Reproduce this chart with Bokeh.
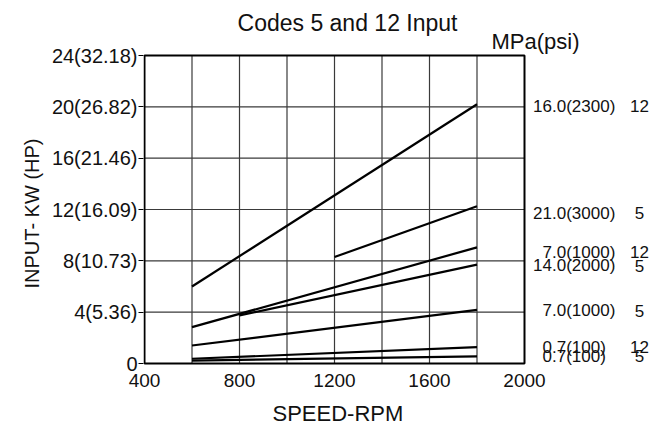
from bokeh.plotting import figure
from bokeh.models import FixedTicker, Range1d, ColumnDataSource, Title
from bokeh.core.properties import value
from bokeh.embed import file_html
from bokeh.resources import INLINE

# ---- data ----
x_start = [600, 1200, 600, 800, 600, 600, 600]
x_end = [1800, 1800, 1800, 1800, 1800, 1800, 1800]
y_start = [6.0, 8.3, 2.83, 3.75, 1.4, 0.37, 0.23]
y_end = [20.2, 12.25, 9.05, 7.7, 4.18, 1.27, 0.55]
pressures = ["16.0(2300)", "21.0(3000)", "7.0(1000)", "14.0(2000)", "7.0(1000)", "0.7(100)", "0.7(100)"]
codes = ["12", "5", "12", "5", "5", "12", "5"]

x_min, x_max = 400, 2000
y_min, y_max = 0, 24
x_ticks = [400, 800, 1200, 1600, 2000]
x_grid = [600, 800, 1000, 1200, 1400, 1600, 1800]
y_ticks = [0, 4, 8, 12, 16, 20, 24]
y_grid = [4, 8, 12, 16, 20]
y_tick_labels = ["0", "4(5.36)", "8(10.73)", "12(16.09)", "16(21.46)", "20(26.82)", "24(32.18)"]

title_text = "Codes 5 and 12 Input"
unit_text = "MPa(psi)"
x_label = "SPEED-RPM"
y_label = "INPUT- KW (HP)"

# ---- layout constants (pixels) ----
FONT = "Liberation Sans"
W, H = 660, 436
PL, PR, PT, PB = 144, 524, 55, 363          # plot box edges
FL, FR, FT, FB = 143, W - 2, 2, 368          # drawing frame edges
kx = (PR - PL) / (x_max - x_min)
ky = (PB - PT) / (y_max - y_min)

def dx(px):  # page pixel x -> data x
    return x_min + (px - PL) / kx

def dy(py):  # page pixel y -> data y
    return y_min + (PB - py) / ky

label_nudge = [2, 7, 5, 1, 1, 0, 0]   # px, downward nudges of right-side labels

p = figure(width=W, height=H, title=None,
           x_range=Range1d(dx(FL), dx(FR)), y_range=Range1d(dy(FB), dy(FT)),
           output_backend="svg", toolbar_location=None,
           min_border_left=FL, min_border_right=W - FR,
           min_border_top=FT, min_border_bottom=H - FB)

p.background_fill_color = "white"
p.border_fill_color = "white"
p.outline_line_color = None
p.xgrid.visible = False
p.ygrid.visible = False

# axes
p.xaxis.ticker = FixedTicker(ticks=x_ticks)
p.yaxis.ticker = FixedTicker(ticks=y_ticks)
p.yaxis.major_label_overrides = {t: s for t, s in zip(y_ticks, y_tick_labels)}
for ax in (p.xaxis[0], p.yaxis[0]):
    ax.axis_line_color = None
    ax.minor_tick_line_color = None
    ax.major_label_text_font = FONT
    ax.major_label_text_color = "#111111"

p.xaxis.major_tick_line_color = None
p.xaxis.major_tick_out = 0
p.xaxis.major_tick_in = 0
p.xaxis.major_label_standoff = 5
p.xaxis.major_label_text_font_size = "19px"

p.yaxis.major_tick_line_color = "black"
p.yaxis.major_tick_out = 5
p.yaxis.major_tick_in = 0
p.yaxis.major_label_standoff = 1
p.yaxis.major_label_text_font_size = "20px"

# axis titles, placed along the plot box rather than the drawing frame
p.add_layout(Title(text=y_label, text_font=FONT, text_font_size="20px",
                   text_font_style="normal", text_color="#111111",
                   align="left", offset=FB - 288, standoff=12),
             "left")
p.add_layout(Title(text=x_label, text_font=FONT, text_font_size="22px",
                   text_font_style="normal", text_color="#111111",
                   align="left", offset=272 - FL, standoff=19),
             "below")

# grid lines and plot box
GRID = "#3a3a3a"
p.segment(x0=x_grid, y0=[y_min] * len(x_grid), x1=x_grid, y1=[y_max] * len(x_grid),
          line_color=GRID, line_width=1.2)
p.segment(x0=[x_min] * len(y_grid), y0=y_grid, x1=[x_max] * len(y_grid), y1=y_grid,
          line_color=GRID, line_width=1.2)
p.quad(left=[x_min], right=[x_max], bottom=[y_min], top=[y_max],
       fill_color=None, line_color="black", line_width=2)

# curves
src = ColumnDataSource(dict(x0=x_start, y0=y_start, x1=x_end, y1=y_end))
p.segment(x0="x0", y0="y0", x1="x1", y1="y1", source=src,
          line_color="black", line_width=2.2)

# title and unit header
p.text(x=[dx(347)], y=[dy(22)], text=[title_text], text_font=value(FONT),
       text_font_size="23px", text_color="#111111",
       text_align="center", text_baseline="middle")
p.text(x=[dx(535)], y=[dy(41)], text=[unit_text], text_font=value(FONT),
       text_font_size="22px", text_color="#111111",
       text_align="center", text_baseline="middle")

# right-side labels (decimal aligned)
digit_w = 0.556 * 17
dot_px = 551.5
lab = ColumnDataSource(dict(
    x=[x_max] * len(pressures),
    y=y_end,
    text=pressures,
    code=codes,
    xo=[dot_px - PR - len(s.split(".")[0]) * digit_w for s in pressures],
    yo=label_nudge,
))
p.text(x="x", y="y", text="text", x_offset="xo", y_offset="yo", source=lab,
       text_font=value(FONT), text_font_size="17px", text_color="#111111",
       text_align="left", text_baseline="middle")
p.text(x="x", y="y", text="code", x_offset=639 - PR, y_offset="yo", source=lab,
       text_font=value(FONT), text_font_size="17px", text_color="#111111",
       text_align="center", text_baseline="middle")

open("out.html", "w").write(file_html(p, INLINE))
